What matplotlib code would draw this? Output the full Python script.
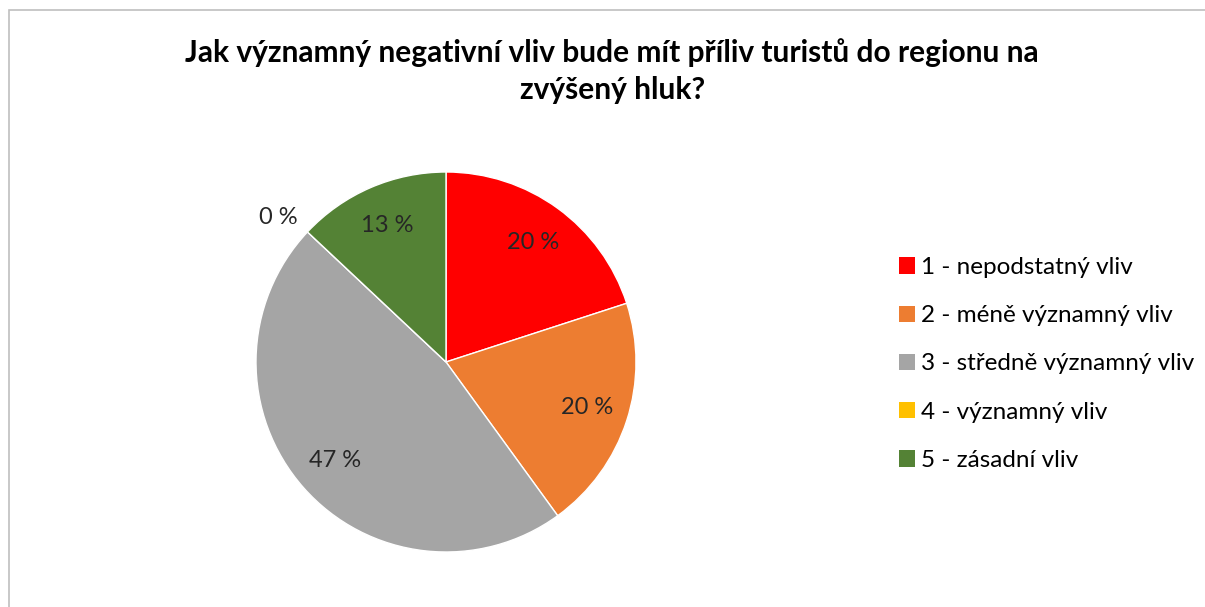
import numpy as np
import matplotlib.pyplot as plt
from matplotlib.patches import Rectangle

# data
categories = ["1 - nepodstatný vliv", "2 - méně významný vliv", "3 - středně významný vliv",
              "4 - významný vliv", "5 - zásadní vliv"]
shares = [20, 20, 47, 0, 13]
colors = ["#FF0000", "#ED7D31", "#A5A5A5", "#FFC000", "#548235"]
title = "Jak významný negativní vliv bude mít příliv turistů do regionu na\nzvýšený hluk?"

plt.rcParams['font.family'] = ['Lato', 'DejaVu Sans']

fig = plt.figure(figsize=(12.05, 6.07), dpi=100)

# chart border (cut at right/bottom like in the screenshot)
fig.patches.append(Rectangle((9 / 1205, -0.1), 1.2, 1 - 10 / 607 + 0.1, transform=fig.transFigure,
                             fill=False, edgecolor="#BFBFBF", linewidth=1.2))

ax = fig.add_axes([256 / 1205, 1 - 552 / 607, 380 / 1205, 380 / 607])
wedges, texts, autotexts = ax.pie(shares, colors=colors, startangle=90, counterclock=False,
                                  autopct=lambda p: f"{p:.0f} %", pctdistance=0.78,
                                  wedgeprops=dict(edgecolor="white", linewidth=1),
                                  textprops=dict(fontsize=17, color="#262626"))
ax.set_xlim(-1, 1)
ax.set_ylim(-1, 1)
ax.set_aspect("equal")

# zero slice label sits outside the pie
for w, t, v in zip(wedges, autotexts, shares):
    if v == 0:
        x, y = t.get_position()
        t.set_position((x * 1.55, y * 1.42))

fig.text(0.508, 1 - 71 / 607, title, ha="center", va="center", fontsize=21.5,
         fontweight="bold", color="#000000", linespacing=1.4)

handles = [Rectangle((0, 0), 1, 1, facecolor=c) for c in colors]
fig.legend(handles, categories, loc="center left", bbox_to_anchor=(887 / 1205, 1 - 364 / 607),
           frameon=False, fontsize=17.5, handlelength=0.65, handleheight=0.65,
           handletextpad=0.25, labelspacing=1.12, borderpad=0)

fig.savefig("out.png", dpi=100)
